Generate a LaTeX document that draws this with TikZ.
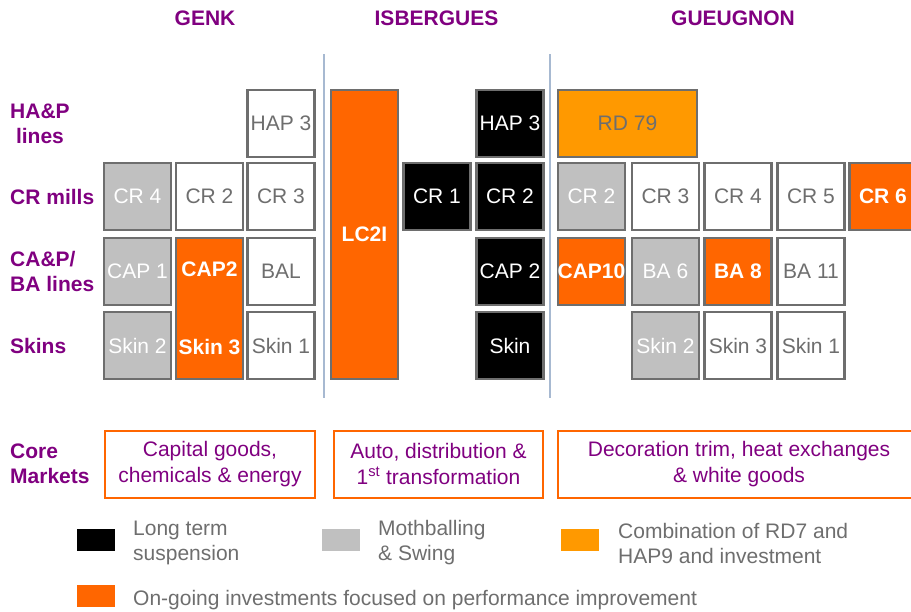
\documentclass[tikz,border=0pt]{standalone}
\usepackage{fontspec}
\setmainfont{Liberation Sans}
\usepackage{tikz}
\usepackage{xcolor}

\definecolor{plantpurple}{HTML}{800080}
\definecolor{invorange}{HTML}{FF6600}
\definecolor{rdorange}{HTML}{FF9900}
\definecolor{swinggray}{HTML}{C0C0C0}
\definecolor{edgegray}{HTML}{6E6E6E}
\definecolor{sepblue}{HTML}{A7B9D1}

\begin{document}
\begin{tikzpicture}[x=1pt, y=-1pt,
  txt/.style={font=\fontsize{21}{25}\selectfont},
  boldtxt/.style={font=\fontsize{21}{25}\selectfont\bfseries},
  unit/.style={txt, draw=edgegray, line width=2.2pt, inner sep=0pt, minimum width=67pt, minimum height=67pt},
  idle/.style={unit, fill=white, text=edgegray},
  swing/.style={unit, fill=swinggray, text=white},
  stopped/.style={unit, fill=black, text=white},
  invest/.style={unit, fill=invorange, text=white, boldtxt},
  combo/.style={unit, fill=rdorange, text=edgegray},
  plant/.style={boldtxt, text=plantpurple},
  rowlabel/.style={boldtxt, text=plantpurple, anchor=west, align=left, inner sep=0pt},
  market/.style={font=\fontsize{21}{26}\selectfont, draw=invorange, line width=2pt, text=plantpurple, align=center, inner sep=0pt, minimum height=67pt},
  swatch/.style={inner sep=0pt, minimum width=38pt, minimum height=22pt},
  legtext/.style={txt, text=edgegray, anchor=west, align=left, inner sep=0pt}]
  \useasboundingbox (0,0) rectangle (911,611);
  % \draw [step=50, gray, very thin] (0,0) grid (911,611);

  % plant headings and separators
  \node[plant] (genk) at (205,18) {GENK};
  \node[plant] (isbergues) at (436.5,18) {ISBERGUES};
  \node[plant] (gueugnon) at (733,18) {GUEUGNON};
  \coordinate (sepa top) at (324,54);
  \coordinate (sepa bot) at (324,398);
  \coordinate (sepb top) at (550,54);
  \coordinate (sepb bot) at (550,398);
  \draw [sepblue, line width=2pt] (sepa top) -- (sepa bot);
  \draw [sepblue, line width=2pt] (sepb top) -- (sepb bot);

  % row labels
  \node[rowlabel, align=center] (hap) at (10,123.5) {HA\&P\\lines};
  \node[rowlabel] (crm) at (10,197) {CR mills};
  \node[rowlabel] (cap) at (10,271.5) {CA\&P/\\BA lines};
  \node[rowlabel] (skins) at (10,346) {Skins};
  \node[rowlabel] (core) at (10,464) {Core\\Markets};

  % Genk
  \node[idle] (g hap3) at (281,123.5) {HAP 3};
  \node[swing] (g cr4) at (137.5,196.5) {CR 4};
  \node[idle] (g cr2) at (209.5,196.5) {CR 2};
  \node[idle] (g cr3) at (281,196.5) {CR 3};
  \node[swing] (g cap1) at (137.5,271.5) {CAP 1};
  \node[invest, minimum height=141pt] (g cap2box) at (209.5,308.5) {};
  \node[boldtxt, text=white] (g cap2) at (209.5,269) {CAP2};
  \node[boldtxt, text=white] (g skin3) at (209.5,347) {Skin 3};
  \node[idle] (g bal) at (281,271.5) {BAL};
  \node[swing] (g skin2) at (137.5,345.5) {Skin 2};
  \node[idle] (g skin1) at (281,345.5) {Skin 1};

  % Isbergues
  \node[invest, minimum height=289pt] (lc2i) at (364.5,234.5) {LC2I};
  \node[stopped] (i hap3) at (510,123.5) {HAP 3};
  \node[stopped] (i cr1) at (437,196.5) {CR 1};
  \node[stopped] (i cr2) at (510,196.5) {CR 2};
  \node[stopped] (i cap2) at (510,271.5) {CAP 2};
  \node[stopped] (i skin) at (510,345.5) {Skin};

  % Gueugnon
  \node[combo, minimum width=139pt] (u rd79) at (627.5,123.5) {RD 79};
  \node[swing] (u cr2) at (591.5,196.5) {CR 2};
  \node[idle] (u cr3) at (665.5,196.5) {CR 3};
  \node[idle] (u cr4) at (738,196.5) {CR 4};
  \node[idle] (u cr5) at (811,196.5) {CR 5};
  \node[invest] (u cr6) at (883,196.5) {CR 6};
  \node[invest] (u cap10) at (591.5,271.5) {CAP10};
  \node[swing] (u ba6) at (665.5,271.5) {BA 6};
  \node[invest] (u ba8) at (738,271.5) {BA 8};
  \node[idle] (u ba11) at (811,271.5) {BA 11};
  \node[swing] (u skin2) at (665.5,345.5) {Skin 2};
  \node[idle] (u skin3) at (738,345.5) {Skin 3};
  \node[idle] (u skin1) at (811,345.5) {Skin 1};

  % core markets
  \node[market, minimum width=210pt] (m genk) at (210,464) {Capital goods,\\chemicals \& energy};
  \node[market, minimum width=209pt] (m isb) at (438.5,464) {Auto, distribution \&\\1\textsuperscript{st} transformation};
  \node[market, minimum width=362pt] (m gue) at (739,464) {Decoration trim, heat exchanges\\\& white goods};

  % legend
  \node[swatch, fill=black] (l stop) at (96,539.5) {};
  \node[legtext] (l stop txt) at (133,543) {Long term\\suspension};
  \node[swatch, fill=swinggray] (l swing) at (341,539.5) {};
  \node[legtext] (l swing txt) at (378,543) {Mothballing\\\& Swing};
  \node[swatch, fill=rdorange] (l combo) at (580,539.5) {};
  \node[legtext] (l combo txt) at (618,543) {Combination of RD7 and\\HAP9 and investment};
  \node[swatch, fill=invorange] (l inv) at (96,595.5) {};
  \node[legtext] (l inv txt) at (133,600) {On-going investments focused on performance improvement};
\end{tikzpicture}
\end{document}
